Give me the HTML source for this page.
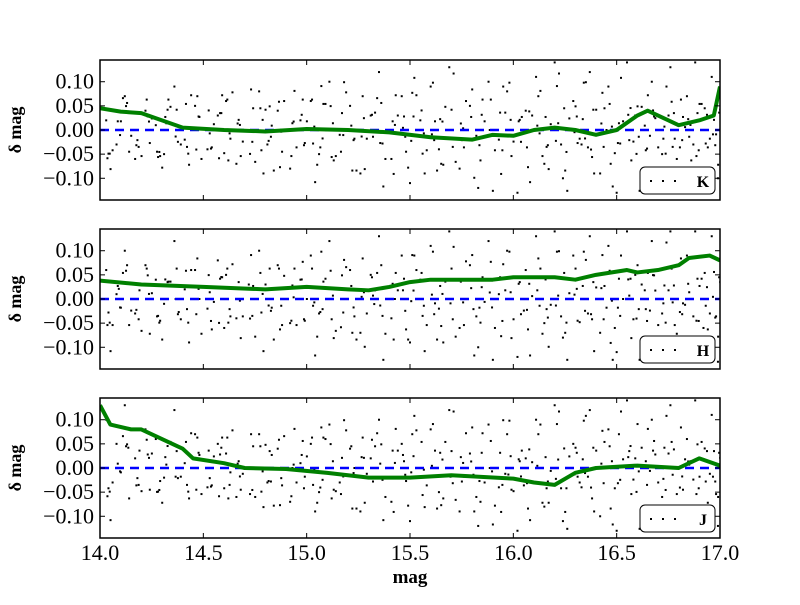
<!DOCTYPE html>
<html><head><meta charset="utf-8"><style>
body{margin:0;background:#fff;}
svg text{font-family:"Liberation Serif",serif;}
</style></head><body>
<svg id="c" width="800" height="600" xmlns="http://www.w3.org/2000/svg"></svg>
<script>
const xTicks=[14.0,14.5,15.0,15.5,16.0,16.5,17.0];
const yTicks=[0.10,0.05,0.00,-0.05,-0.10];
const bands=['K','H','J'];
const kX=[14.0,14.1,14.2,14.3,14.4,14.6,14.8,15.0,15.2,15.4,15.6,15.8,15.9,16.0,16.1,16.2,16.3,16.4,16.5,16.6,16.65,16.75,16.8,16.9,16.97,17.0];
const kY=[0.045,0.038,0.035,0.02,0.005,0.0,-0.003,0.002,0.0,-0.005,-0.015,-0.02,-0.01,-0.012,0.0,0.005,0.0,-0.01,0.0,0.03,0.04,0.02,0.01,0.02,0.03,0.09];
const hX=[14.0,14.2,14.5,14.8,15.0,15.2,15.3,15.4,15.5,15.6,15.7,15.9,16.0,16.2,16.3,16.4,16.55,16.6,16.7,16.8,16.85,16.95,17.0];
const hY=[0.038,0.03,0.025,0.02,0.025,0.02,0.018,0.025,0.035,0.04,0.04,0.04,0.045,0.045,0.04,0.05,0.06,0.055,0.06,0.07,0.085,0.09,0.08];
const jX=[14.0,14.05,14.15,14.2,14.3,14.4,14.45,14.6,14.7,14.9,15.1,15.3,15.5,15.7,16.0,16.1,16.2,16.3,16.4,16.6,16.8,16.9,17.0];
const jY=[0.13,0.09,0.08,0.08,0.06,0.04,0.02,0.01,0.0,-0.002,-0.01,-0.02,-0.02,-0.015,-0.022,-0.03,-0.035,-0.01,0.0,0.005,0.0,0.02,0.005];
const sX=[14.03,14.08,14.12,14.17,14.22,14.27,14.31,14.36,14.41,14.46,14.52,14.57,14.61,14.66,14.72,14.77,14.81,14.86,14.92,14.97,15.02,15.06,15.11,15.16,15.21,15.26,15.31,15.35,15.41,15.46,15.5,15.55,15.6,15.64,15.69,15.74,15.79,15.83,15.88,15.93,15.97,16.02,16.06,16.11,16.15,16.2,16.24,16.29,16.33,16.37,16.42,16.46,16.5,16.55,16.59,16.63,16.67,16.72,16.76,16.8,16.84,16.88,16.92,16.96,16.99];
const sKY=[0.02,-0.03,0.07,-0.06,0.04,0.01,-0.05,0.09,-0.02,0.05,-0.04,0.03,0.06,-0.07,0.0,0.08,-0.03,0.04,-0.08,0.02,0.06,-0.05,0.1,-0.01,0.05,-0.09,0.03,0.12,-0.06,0.07,-0.11,0.02,0.09,-0.04,0.13,-0.08,0.05,-0.12,0.1,-0.02,0.08,-0.13,0.04,0.11,-0.07,0.14,-0.1,0.06,-0.03,0.12,-0.09,0.09,-0.13,0.14,0.03,-0.11,0.1,-0.05,0.13,-0.12,0.07,0.14,-0.08,0.11,-0.1];
const sHY=[0.06,0.01,0.1,-0.03,0.07,0.04,-0.01,0.12,0.02,0.06,-0.02,0.08,0.05,-0.04,0.03,0.1,0.0,0.07,-0.05,0.04,0.09,-0.03,0.12,0.02,0.06,-0.07,0.05,0.13,-0.04,0.09,-0.09,0.04,0.11,-0.02,0.14,-0.06,0.07,-0.1,0.12,0.01,0.1,-0.12,0.06,0.13,-0.05,0.14,-0.08,0.09,0.0,0.13,-0.07,0.11,-0.11,0.14,0.05,-0.09,0.12,-0.03,0.14,-0.1,0.09,0.14,-0.06,0.13,-0.13];
const sJY=[0.1,0.05,0.13,0.02,0.08,0.06,-0.02,0.12,0.01,0.07,-0.04,0.05,0.03,-0.06,0.0,0.07,-0.03,0.04,-0.07,0.01,0.05,-0.05,0.09,-0.03,0.04,-0.09,0.02,0.1,-0.07,0.05,-0.11,0.0,0.08,-0.05,0.12,-0.09,0.03,-0.12,0.09,-0.04,0.07,-0.13,0.02,0.1,-0.08,0.13,-0.11,0.05,-0.04,0.12,-0.1,0.08,-0.13,0.14,0.02,-0.12,0.1,-0.06,0.13,-0.13,0.06,0.14,-0.09,0.11,-0.12];
const series=[[kX,kY,sKY],[hX,hY,sHY],[jX,jY,sJY]];
const tops=[60,229,398];
const NS='http://www.w3.org/2000/svg';
const svg=document.getElementById('c');
const L=100,R=720,H=140,Y0=-0.145,Y1=0.145,X0=14,X1=17;
function xs(v){return L+(v-X0)/(X1-X0)*(R-L);}
function ys(v,t){return t+H-(v-Y0)/(Y1-Y0)*H;}
function el(tag,attrs,parent){const e=document.createElementNS(NS,tag);for(const k in attrs)e.setAttribute(k,attrs[k]);(parent||svg).appendChild(e);return e;}
series.forEach((s,i)=>{
  const t=tops[i];
  const g=el('g',{});
  
  
  const cp=el('clipPath',{id:'cp'+i},g);el('rect',{x:L,y:t,width:R-L,height:H},cp);
  const pts=el('g',{'clip-path':'url(#cp'+i+')'},g);
  
  
  const offs=[[0,0,1],[0.021,7,-0.9],[0.011,13,0.7],[0.031,29,-0.6],[0.006,41,0.45],[0.017,53,-0.35]];
  offs.forEach(o=>{
    sX.forEach((x,k)=>{el('rect',{x:xs(x+o[0])-1,y:ys(s[2][(k+o[1])%sX.length]*o[2]+(s[1][0]*0),t)-1,width:2,height:2,fill:'#000'},pts);});
  });
  const z=el('line',{x1:L,x2:R,y1:ys(0,t),y2:ys(0,t),stroke:'#0000ff','stroke-width':2.5,'stroke-dasharray':'9,6'},pts);
  
  
  const p=el('polyline',{points:s[0].map((x,k)=>xs(x)+','+ys(s[1][k],t)).join(' '),fill:'none',stroke:'#008000','stroke-width':4,'stroke-linejoin':'round'},pts);
  
  
  el('rect',{x:L,y:t,width:R-L,height:H,fill:'none',stroke:'#000','stroke-width':1.5},g);
  yTicks.forEach(v=>{const y=ys(v,t);el('line',{x1:L,x2:L+5,y1:y,y2:y,stroke:'#000'},g);el('line',{x1:R-5,x2:R,y1:y,y2:y,stroke:'#000'},g);
    const tx=el('text',{x:L-6,y:y+7,'text-anchor':'end','font-size':22},g);tx.textContent=(v<0?'\u2212':'')+Math.abs(v).toFixed(2);
    });
  xTicks.forEach(v=>{const x=xs(v);el('line',{x1:x,x2:x,y1:t+H,y2:t+H-5,stroke:'#000'},g);el('line',{x1:x,x2:x,y1:t,y2:t+5,stroke:'#000'},g);
    if(i==2){const tx=el('text',{x:x,y:t+H+22,'text-anchor':'middle','font-size':22},g);tx.textContent=v.toFixed(1);
    }});
  const yl=el('text',{x:0,y:0,'font-size':18,'font-weight':'bold','text-anchor':'middle',transform:'translate(21,'+(t+H/2)+') rotate(-90)'},g);
  yl.textContent='\u03b4 mag';
  
  
  const lg=el('g',{},g);
  
  
  el('rect',{x:640,y:t+107,width:75,height:27,rx:5,fill:'#fff',stroke:'#000'},lg);
  [650,662,674].forEach(x=>el('rect',{x:x,y:t+120,width:2,height:2,fill:'#000'},lg));
  const lt=el('text',{x:703,y:t+127,'text-anchor':'middle','font-size':16,'font-weight':'bold'},lg);lt.textContent=bands[i];
});
const xl=el('text',{x:410,y:583,'text-anchor':'middle','font-size':19,'font-weight':'bold'});
xl.textContent='mag';


</script>
</body></html>
